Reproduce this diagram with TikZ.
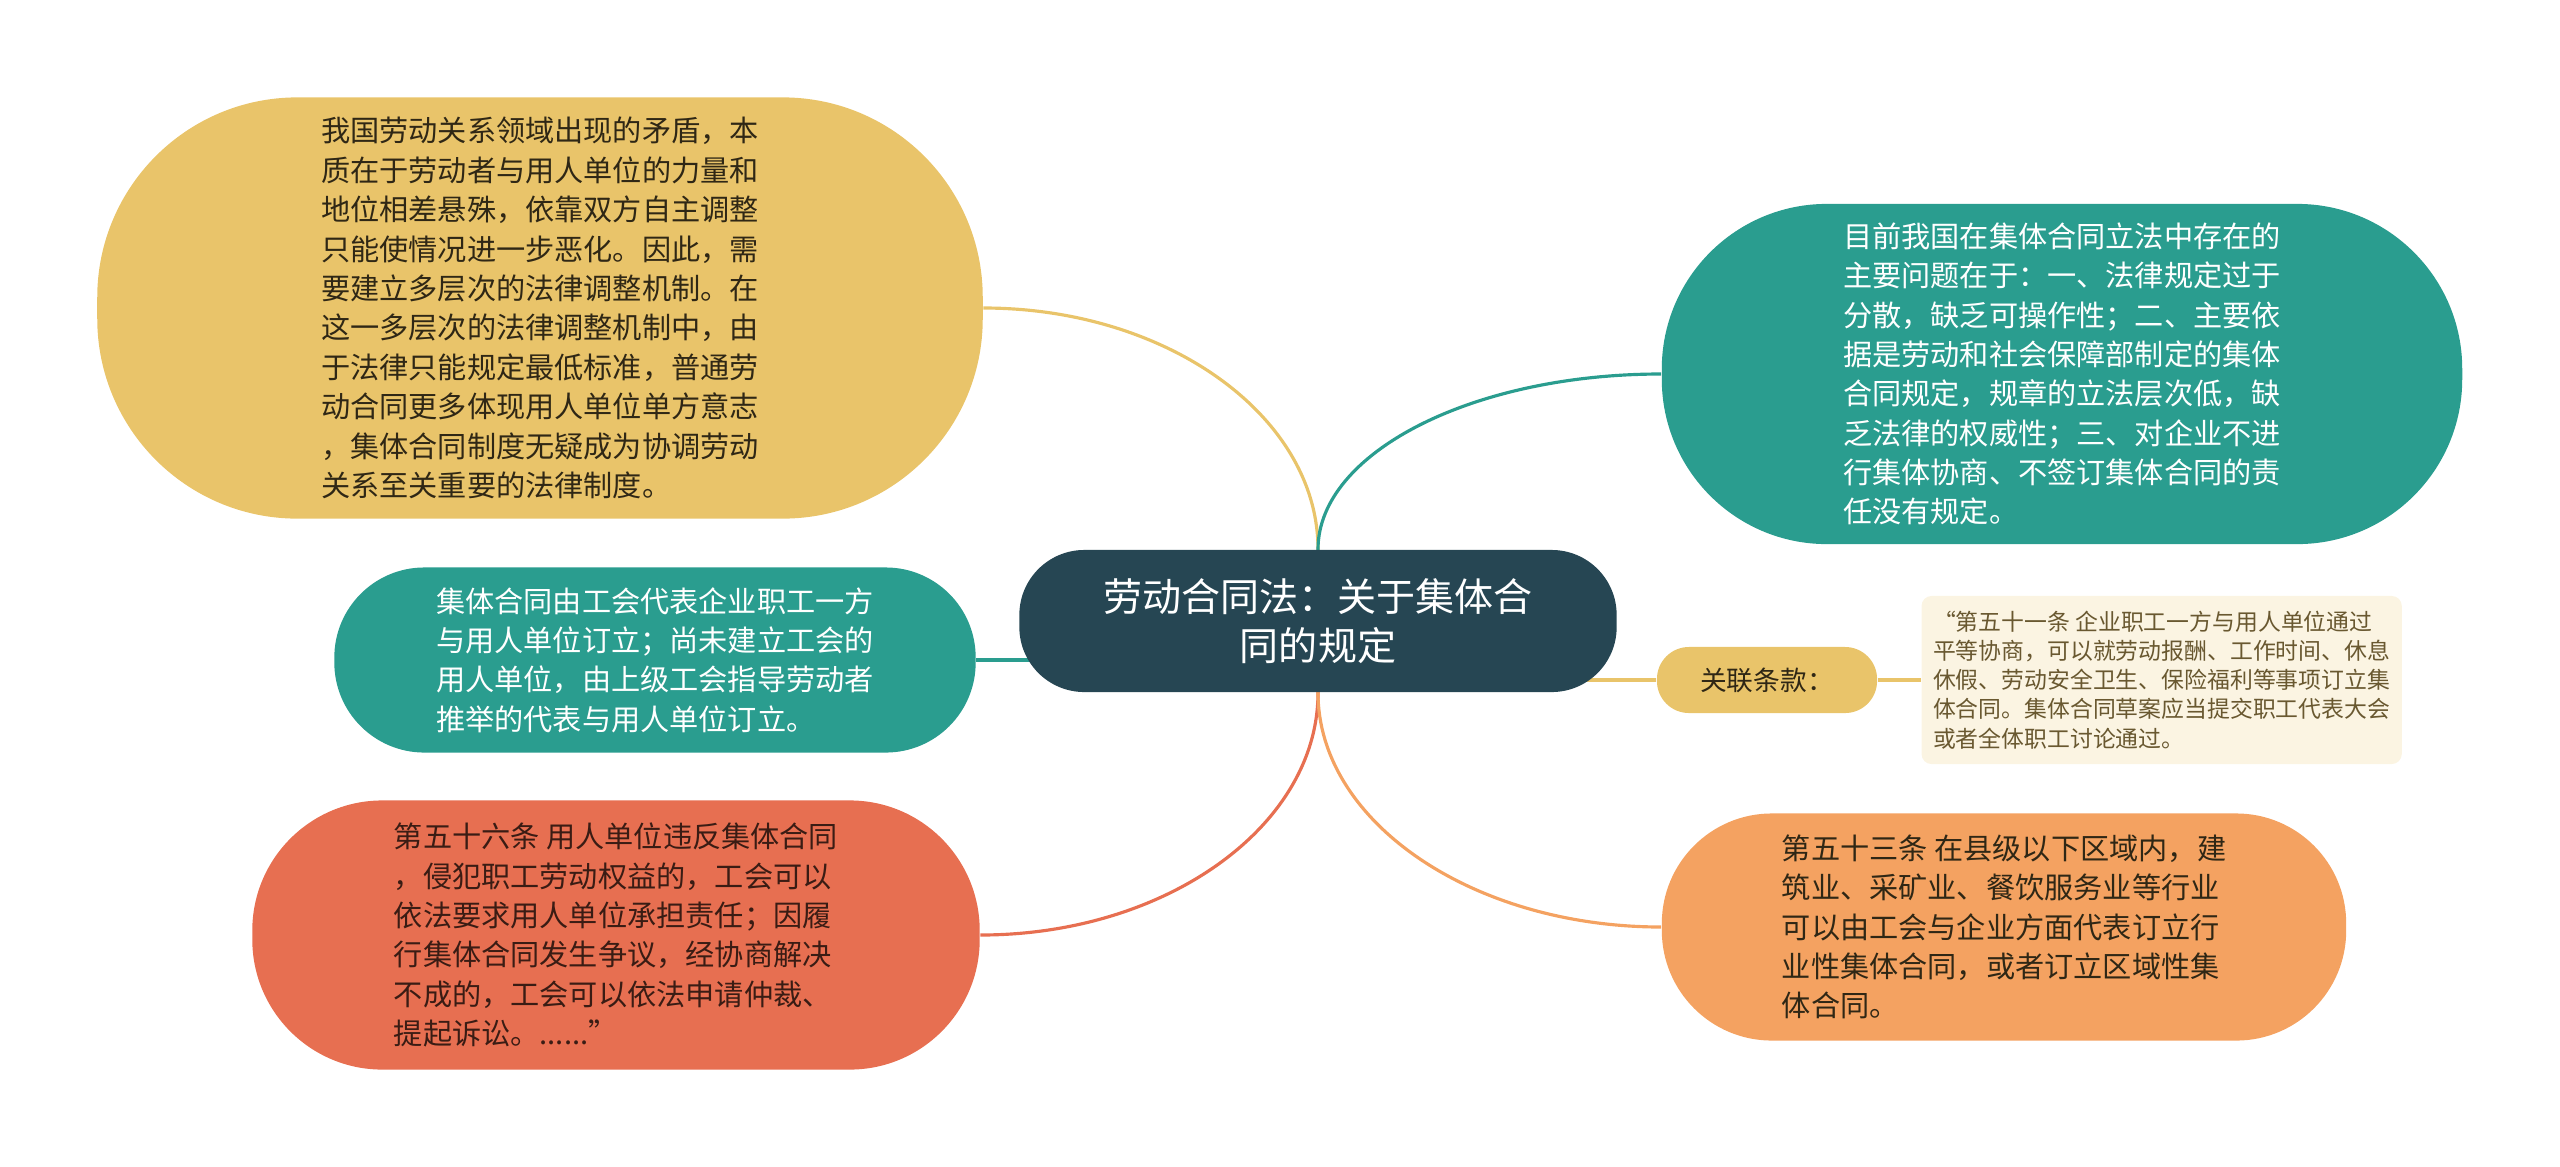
\documentclass[tikz,border=0pt]{standalone}
\usepackage{fontspec}
\setmainfont{Noto Sans CJK SC}
\usetikzlibrary{positioning, backgrounds, calc}
\definecolor{root_blue}{HTML}{264653}
\definecolor{sand}{HTML}{E9C46A}
\definecolor{sea_green}{HTML}{2A9D8F}
\definecolor{coral}{HTML}{E76F51}
\definecolor{apricot}{HTML}{F4A261}
\definecolor{cream}{HTML}{FBF4E2}
\colorlet{olive_text}{sand!45!black}
\colorlet{dark_text}{sand!20!black}
\colorlet{dark_coral}{coral!25!black}

\begin{document}
\begin{tikzpicture}[
                        x=0.01cm, y=-0.01cm,
                        root/.style={fill=root_blue, text=white, align=center, rounded corners=0.65cm,
                                     minimum width=5.97cm, minimum height=1.42cm,
                                     font=\fontsize{11.1}{13.9}\selectfont},
                        branch/.style={align=left, inner sep=0pt, font=\fontsize{8.3}{11.2}\selectfont},
                        link/.style={draw=#1, line width=0.9pt},
                        node distance=0.43cm,
                    ]
                        \useasboundingbox (0,0) rectangle (2560,1166);

                        %nodes
                        \node[root] (root) at (1318,621) {劳动合同法：关于集体合\\同的规定};
                        \node[branch, fill=sand, text=dark_text, minimum width=8.85cm, minimum height=4.21cm, rounded corners=2cm] (policy) at (540,308)
                            {我国劳动关系领域出现的矛盾，本\\质在于劳动者与用人单位的力量和\\地位相差悬殊，依靠双方自主调整\\只能使情况进一步恶化。因此，需\\要建立多层次的法律调整机制。在\\这一多层次的法律调整机制中，由\\于法律只能规定最低标准，普通劳\\动合同更多体现用人单位单方意志\\，集体合同制度无疑成为协调劳动\\关系至关重要的法律制度。};
                        \node[branch, fill=sea_green, text=white, minimum width=8cm, minimum height=3.4cm, rounded corners=1.65cm] (problems) at (2062,374)
                            {目前我国在集体合同立法中存在的\\主要问题在于：一、法律规定过于\\分散，缺乏可操作性；二、主要依\\据是劳动和社会保障部制定的集体\\合同规定，规章的立法层次低，缺\\乏法律的权威性；三、对企业不进\\行集体协商、不签订集体合同的责\\任没有规定。};
                        \node[branch, fill=sea_green, text=white, minimum width=6.41cm, minimum height=1.85cm, rounded corners=0.9cm] (union) at (655,660)
                            {集体合同由工会代表企业职工一方\\与用人单位订立；尚未建立工会的\\用人单位，由上级工会指导劳动者\\推举的代表与用人单位订立。};
                        \node[branch, fill=coral, text=dark_coral, minimum width=7.27cm, minimum height=2.69cm, rounded corners=1.3cm] (breach) at (616,935)
                            {第五十六条 用人单位违反集体合同\\，侵犯职工劳动权益的，工会可以\\依法要求用人单位承担责任；因履\\行集体合同发生争议，经协商解决\\不成的，工会可以依法申请仲裁、\\提起诉讼。......”};
                        \node[branch, fill=apricot, text=dark_text, minimum width=6.84cm, minimum height=2.27cm, rounded corners=1.1cm] (industry) at (2004,927)
                            {第五十三条 在县级以下区域内，建\\筑业、采矿业、餐饮服务业等行业\\可以由工会与企业方面代表订立行\\业性集体合同，或者订立区域性集\\体合同。};
                        \node[fill=sand, text=dark_text, minimum width=2.2cm, minimum height=0.66cm, rounded corners=0.32cm,
                              font=\fontsize{7.6}{9}\selectfont] (related) at (1767,680) {关联条款：};
                        \node[fill=cream, text=olive_text, align=left, inner sep=0pt, minimum width=4.8cm, minimum height=1.68cm,
                              rounded corners=0.1cm, font=\fontsize{6.5}{8.3}\selectfont] (article) [right=of related]
                            {“第五十一条 企业职工一方与用人单位通过\\平等协商，可以就劳动报酬、工作时间、休息\\休假、劳动安全卫生、保险福利等事项订立集\\体合同。集体合同草案应当提交职工代表大会\\或者全体职工讨论通过。};

                        % connections
                        \begin{scope}[on background layer]
                            \foreach \b/\a/\e/\c in {policy/east/north/sand, problems/west/north/sea_green,
                                                     breach/east/south/coral, industry/west/south/apricot} {
                                \draw[link=\c] (\b.\a) .. controls ($(\b.\a)!0.55!(\b.\a -| root.\e)$)
                                    and ($(root.\e)!0.55!(\b.\a -| root.\e)$) .. (root.\e) -- (root.center);
                            }
                            \draw[link=sea_green] (union.east) -- (union.east -| root.center);
                            \draw[link=sand] (root.center |- related.west) -- (related.west);
                            \draw[link=sand] (related.east) -- (article.west);
                        \end{scope}
                    \end{tikzpicture}
\end{document}
